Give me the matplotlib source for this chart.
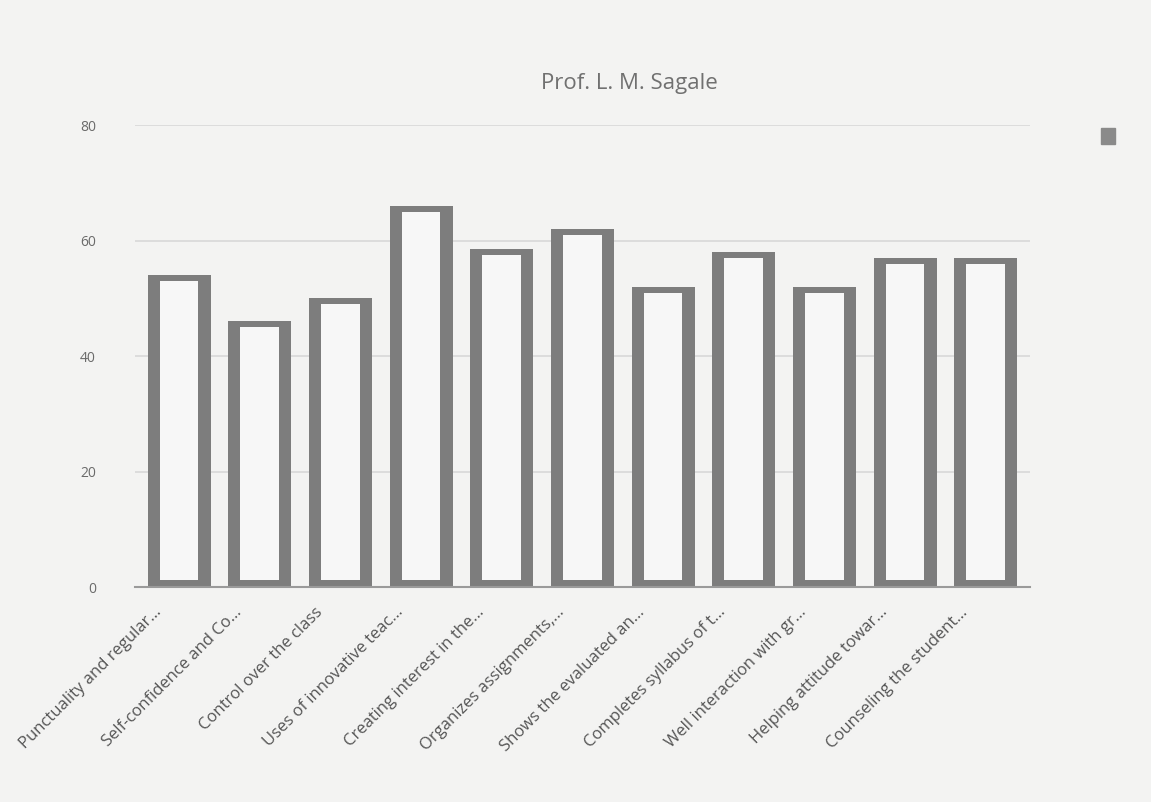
import matplotlib.pyplot as plt
import matplotlib.transforms as mtransforms
from matplotlib.patches import Patch

criteria = ['Punctuality and regular…', 'Self-confidence and Co…', 'Control over the class',
            'Uses of innovative teac…', 'Creating interest in the…', 'Organizes assignments,…',
            'Shows the evaluated an…', 'Completes syllabus of t…', 'Well interaction with gr…',
            'Helping attitude towar…', 'Counseling the student…']
scores = [54, 46, 50, 66, 58.5, 62, 52, 58, 52, 57, 57]
y_ticks = [0, 20, 40, 60, 80]

plt.rcParams['font.family'] = ['Open Sans', 'DejaVu Sans']

fig = plt.figure(figsize=(11.51, 8.02), dpi=100, facecolor='#f3f3f2')
ax = fig.add_axes([0.117, 0.268, 0.778, 0.576])
ax.set_facecolor('#f3f3f2')

x = list(range(len(criteria)))
# outer grey frame, then the pale inside
ax.bar(x, scores, width=0.78, color='#7d7d7d', zorder=2)
ax.bar(x, [s - 2.3 for s in scores], width=0.48, bottom=1.3, color='#f7f7f7', zorder=3)

ax.set_ylim(0, 80)
ax.set_xlim(-0.55, len(criteria) - 0.45)
ax.set_yticks(y_ticks)
ax.yaxis.grid(True, color='#d8d8d8', linewidth=1.2, zorder=0)
for s in ['top', 'right', 'left']:
    ax.spines[s].set_visible(False)
ax.spines['bottom'].set_color('#9a9a9a')
ax.spines['bottom'].set_linewidth(1.5)
ax.tick_params(axis='both', length=0, colors='#6a6a6a', labelsize=10)
ax.tick_params(axis='y', pad=28)
ax.tick_params(axis='x', pad=8)
ax.set_xticks(x)
ax.set_xticklabels(criteria, rotation=45, ha='right', rotation_mode='anchor',
                   color='#555555', fontsize=12)
shift = mtransforms.ScaledTranslation(-26 / 100, -6 / 100, fig.dpi_scale_trans)
for lab in ax.get_xticklabels():
    lab.set_transform(lab.get_transform() + shift)

ax.set_title('Prof. L. M. Sagale', fontsize=16, color='#707070', pad=26, x=0.553)

ax.legend([Patch(color='#8a8a8a')], [''], loc='upper left', bbox_to_anchor=(1.065, 1.02),
          frameon=False, handlelength=1.0, handleheight=1.3, handletextpad=0)

fig.savefig('out.png', dpi=100, facecolor=fig.get_facecolor())
